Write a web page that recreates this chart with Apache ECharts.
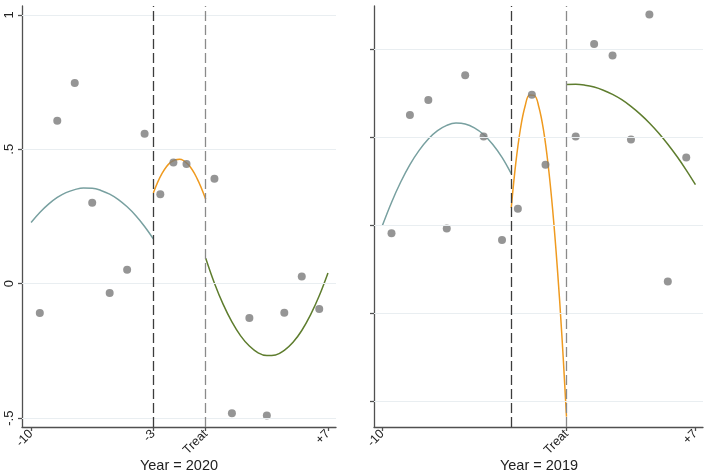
<!DOCTYPE html>
<html>
<head>
<meta charset="utf-8">
<script src="https://cdn.jsdelivr.net/npm/echarts@6/dist/echarts.min.js"></script>
<style>html,body{margin:0;padding:0;background:#fff}#c{width:709px;height:474px}</style>
</head>
<body>
<div id="c"></div>
<script>
// ---- Panel titles
const panelTitles = ['Year = 2020', 'Year = 2019'];

// ---- X ticks
const leftXTicks = [-10, -3, 0, 7];
const leftXLabels = ['-10', '-3', 'Treat', '+7'];
const rightXTicks = [-10, 0, 7];
const rightXLabels = ['-10', 'Treat', '+7'];
const cutoffs = [-3, 0];

// ---- Y ticks
const leftYTicks = [-0.5, 0, 0.5, 1];
const leftYLabels = ['-.5', '0', '.5', '1'];
const rightYTicks = [-1, -0.5, 0, 0.5, 1];

// ---- Left panel (2020) binned points
const leftPtsX = [-9.5, -8.5, -7.5, -6.5, -5.5, -4.5, -3.5, -2.6, -1.85, -1.1, 0.5, 1.5, 2.5, 3.5, 4.5, 5.5, 6.5];
const leftPtsY = [-0.109, 0.606, 0.747, 0.301, -0.035, 0.052, 0.558, 0.333, 0.451, 0.445, 0.390, -0.482, -0.128, -0.490, -0.108, 0.027, -0.094];

// ---- Left panel fitted curves
const leftPreX = [-10, -9.5, -9, -8.5, -8, -7.5, -7, -6.5, -6, -5.5, -5, -4.5, -4, -3.5, -3];
const leftPreY = [0.228, 0.265, 0.296, 0.321, 0.339, 0.350, 0.356, 0.355, 0.347, 0.333, 0.313, 0.286, 0.253, 0.213, 0.167];
const leftMidX = [-3, -2.5, -2, -1.5, -1, -0.5, 0];
const leftMidY = [0.337, 0.410, 0.452, 0.463, 0.443, 0.392, 0.314];
const leftPostX = [0, 0.5, 1, 1.5, 2, 2.5, 3, 3.5, 4, 4.5, 5, 5.5, 6, 6.5, 7];
const leftPostY = [0.095, 0.002, -0.077, -0.142, -0.194, -0.232, -0.257, -0.267, -0.265, -0.248, -0.218, -0.174, -0.116, -0.045, 0.040];

// ---- Right panel (2019) binned points
const rightPtsX = [-9.5, -8.5, -7.5, -6.5, -5.5, -4.5, -3.5, -2.64, -1.88, -1.14, 0.5, 1.5, 2.5, 3.5, 4.5, 5.5, 6.5];
const rightPtsY = [-0.046, 0.626, 0.711, -0.019, 0.852, 0.504, -0.085, 0.093, 0.742, 0.343, 0.504, 1.030, 0.965, 0.487, 1.197, -0.321, 0.385];

// ---- Right panel fitted curves
const rightPreX = [-10, -9.5, -9, -8.5, -8, -7.5, -7, -6.5, -6, -5.5, -5, -4.5, -4, -3.5, -3];
const rightPreY = [-0.004, 0.129, 0.245, 0.344, 0.425, 0.490, 0.537, 0.567, 0.580, 0.575, 0.553, 0.515, 0.458, 0.385, 0.292];
const rightMidX = [-3, -2.75, -2.5, -2.25, -2, -1.75, -1.5, -1.25, -1, -0.75, -0.5, -0.25, 0];
const rightMidY = [0.097, 0.355, 0.548, 0.676, 0.740, 0.738, 0.672, 0.541, 0.346, 0.086, -0.240, -0.629, -1.089];
const rightPostX = [0, 0.5, 1, 1.5, 2, 2.5, 3, 3.5, 4, 4.5, 5, 5.5, 6, 6.5, 7];
const rightPostY = [0.799, 0.801, 0.796, 0.785, 0.767, 0.743, 0.713, 0.675, 0.631, 0.581, 0.524, 0.460, 0.390, 0.313, 0.230];

const FONT = '"Liberation Sans", Arial, sans-serif';
const AXIS_C = '#505050';
const PT_C = '#7b7b7b';
const PRE_C = '#78a0a0';
const MID_C = '#ef9a1f';
const POST_C = '#5e7d2e';
const GRID_C = '#e9eef1';

const zip = (xs, ys) => xs.map((x, i) => [x, ys[i]]);

function xAxisCfg(idx, min, max, ticks, labels) {
  return {
    type: 'value', gridIndex: idx, min: min, max: max,
    axisLine: { show: true, onZero: false, lineStyle: { color: AXIS_C, width: 1.3 } },
    axisTick: { show: true, length: 4, customValues: ticks, lineStyle: { color: AXIS_C, width: 1.3 } },
    axisLabel: {
      show: true, customValues: ticks, rotate: 45, margin: 5, fontSize: 12.5, color: '#222', fontFamily: FONT,
      formatter: v => { const i = ticks.findIndex(t => Math.abs(t - v) < 1e-6); return i >= 0 ? labels[i] : ''; }
    },
    splitLine: { show: false }
  };
}
function yAxisCfg(idx, min, max, ticks, labels) {
  return {
    type: 'value', gridIndex: idx, min: min, max: max,
    axisLine: { show: true, onZero: false, lineStyle: { color: AXIS_C, width: 1.3 } },
    axisTick: { show: true, length: 4, customValues: ticks, lineStyle: { color: AXIS_C, width: 1.3 } },
    axisLabel: {
      show: !!labels, customValues: ticks, rotate: 90, margin: 6, fontSize: 13, color: '#222', fontFamily: FONT,
      formatter: v => { if (!labels) return ''; const i = ticks.findIndex(t => Math.abs(t - v) < 1e-6); return i >= 0 ? labels[i] : ''; }
    },
    splitLine: { show: false }
  };
}
function refSeries(idx, yTicks) {
  const data = yTicks.map(v => ({ yAxis: v, lineStyle: { color: GRID_C, width: 1, type: 'solid' } }));
  data.push({ xAxis: cutoffs[0], lineStyle: { color: '#3c3c3c', width: 1.3, type: [10, 4] } });
  data.push({ xAxis: cutoffs[1], lineStyle: { color: '#8a8a8a', width: 1.3, type: [10, 4] } });
  return {
    type: 'line', xAxisIndex: idx, yAxisIndex: idx, data: [], z: 1, silent: true,
    markLine: { silent: true, symbol: ['none', 'none'], label: { show: false }, animation: false, data: data }
  };
}
function curve(idx, xs, ys, color) {
  return {
    type: 'line', xAxisIndex: idx, yAxisIndex: idx, data: zip(xs, ys), smooth: 0.4,
    showSymbol: false, symbol: 'none', z: 3, silent: true,
    lineStyle: { color: color, width: 1.5 }
  };
}
function pts(idx, xs, ys) {
  return {
    type: 'scatter', xAxisIndex: idx, yAxisIndex: idx, data: zip(xs, ys), symbol: 'circle', symbolSize: 8,
    itemStyle: { color: PT_C }, z: 4, silent: true
  };
}

const chart = echarts.init(document.getElementById('c'), null, { renderer: 'canvas' });
chart.setOption({
  animation: false,
  backgroundColor: '#ffffff',
  textStyle: { fontFamily: FONT },
  grid: [
    { left: 22, right: 373, top: 6, bottom: 47, containLabel: false, outerBoundsMode: 'none' },
    { left: 374, right: 6, top: 6, bottom: 47, containLabel: false, outerBoundsMode: 'none' }
  ],
  graphic: [
    { type: 'text', x: 179, y: 466, silent: true,
      style: { text: panelTitles[0], fill: '#222', font: '14.5px ' + FONT, textAlign: 'center', textVerticalAlign: 'middle' } },
    { type: 'text', x: 539, y: 466, silent: true,
      style: { text: panelTitles[1], fill: '#222', font: '14.5px ' + FONT, textAlign: 'center', textVerticalAlign: 'middle' } }
  ],
  xAxis: [
    xAxisCfg(0, -10.52, 7.46, leftXTicks, leftXLabels),
    xAxisCfg(1, -10.45, 7.41, rightXTicks, rightXLabels)
  ],
  yAxis: [
    yAxisCfg(0, -0.533, 1.033, leftYTicks, leftYLabels),
    yAxisCfg(1, -1.148, 1.246, rightYTicks, null)
  ],
  series: [
    refSeries(0, leftYTicks),
    refSeries(1, rightYTicks),
    curve(0, leftPreX, leftPreY, PRE_C),
    curve(0, leftMidX, leftMidY, MID_C),
    curve(0, leftPostX, leftPostY, POST_C),
    curve(1, rightPreX, rightPreY, PRE_C),
    curve(1, rightMidX, rightMidY, MID_C),
    curve(1, rightPostX, rightPostY, POST_C),
    pts(0, leftPtsX, leftPtsY),
    pts(1, rightPtsX, rightPtsY)
  ]
});
</script>
</body>
</html>
